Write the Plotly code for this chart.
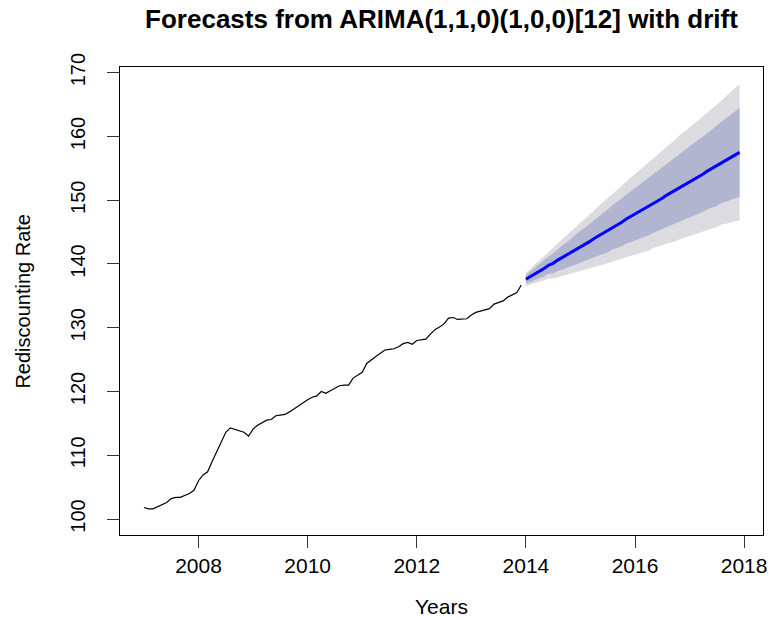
import plotly.graph_objects as go

# Monthly rediscounting rate, Jan 2007 - Dec 2013
hist_start = 2007.0
hist_values = [
    101.8, 101.6, 101.6, 101.9, 102.2, 102.6, 103.2, 103.4, 103.4, 103.7, 104.0, 104.5,
    106.0, 106.9, 107.4, 109.0, 110.6, 112.2, 113.6, 114.3, 114.1, 113.9, 113.6, 113.0,
    114.1, 114.7, 115.1, 115.5, 115.6, 116.2, 116.3, 116.4, 116.8, 117.3, 117.8, 118.3,
    118.7, 119.1, 119.3, 120.0, 119.7, 120.1, 120.5, 120.9, 121.0, 121.0, 122.1, 122.6,
    123.0, 124.4, 125.0, 125.5, 126.0, 126.5, 126.6, 126.7, 127.0, 127.5, 127.7, 127.4,
    128.0, 128.1, 128.2, 129.0, 129.7, 130.1, 130.6, 131.5, 131.6, 131.3, 131.3, 131.4,
    132.0, 132.4, 132.6, 132.8, 133.0, 133.7, 134.0, 134.2, 134.8, 135.1, 135.5, 136.7,
]

# Point forecasts, Jan 2014 - Dec 2017
fc_start = 2014.0
fc_mean = [
    137.6, 138.0, 138.5, 138.9, 139.3, 139.8, 140.1, 140.6, 141.0, 141.4, 141.9, 142.3,
    142.7, 143.1, 143.5, 144.0, 144.4, 144.8, 145.2, 145.7, 146.1, 146.5, 147.0, 147.4,
    147.8, 148.2, 148.6, 149.0, 149.5, 149.9, 150.3, 150.8, 151.2, 151.6, 152.1, 152.5,
    152.9, 153.3, 153.7, 154.1, 154.6, 155.0, 155.4, 155.9, 156.3, 156.7, 157.1, 157.5,
]

# Half-widths of the 80% and 95% prediction intervals
hw80 = [
    0.65, 0.85, 1.0, 1.1, 1.25, 1.35, 1.55, 1.7, 1.9, 2.0, 2.15, 2.35,
    2.5, 2.6, 2.75, 2.9, 3.05, 3.2, 3.35, 3.45, 3.6, 3.75, 3.85, 4.0,
    4.1, 4.25, 4.4, 4.5, 4.6, 4.7, 4.85, 4.95, 5.1, 5.25, 5.35, 5.45,
    5.55, 5.7, 5.8, 5.9, 6.0, 6.15, 6.3, 6.35, 6.55, 6.65, 6.8, 7.0,
]
hw95 = [
    1.0, 1.3, 1.5, 1.7, 1.9, 2.1, 2.4, 2.6, 2.9, 3.1, 3.3, 3.6,
    3.8, 4.0, 4.2, 4.4, 4.7, 4.9, 5.1, 5.3, 5.5, 5.7, 5.9, 6.1,
    6.3, 6.5, 6.7, 6.9, 7.0, 7.2, 7.4, 7.6, 7.8, 8.0, 8.2, 8.3,
    8.5, 8.7, 8.9, 9.0, 9.2, 9.4, 9.6, 9.7, 10.0, 10.2, 10.4, 10.7,
]

x_ticks = [2008, 2010, 2012, 2014, 2016, 2018]
y_ticks = [100, 110, 120, 130, 140, 150, 160, 170]

hist_x = [hist_start + i / 12 for i in range(len(hist_values))]
fc_x = [fc_start + i / 12 for i in range(len(fc_mean))]

lo95 = [m - h for m, h in zip(fc_mean, hw95)]
hi95 = [m + h for m, h in zip(fc_mean, hw95)]
lo80 = [m - h for m, h in zip(fc_mean, hw80)]
hi80 = [m + h for m, h in zip(fc_mean, hw80)]

fig = go.Figure()

# 95% band
fig.add_trace(go.Scatter(
    x=fc_x + fc_x[::-1], y=hi95 + lo95[::-1],
    fill="toself", fillcolor="#DBDBE0", line=dict(width=0),
    mode="lines", hoverinfo="skip", showlegend=False,
))
# 80% band
fig.add_trace(go.Scatter(
    x=fc_x + fc_x[::-1], y=hi80 + lo80[::-1],
    fill="toself", fillcolor="#B1B5D0", line=dict(width=0),
    mode="lines", hoverinfo="skip", showlegend=False,
))
# observed series
fig.add_trace(go.Scatter(
    x=hist_x, y=hist_values, mode="lines",
    line=dict(color="black", width=1.2), showlegend=False,
))
# point forecasts
fig.add_trace(go.Scatter(
    x=fc_x, y=fc_mean, mode="lines",
    line=dict(color="#0000FF", width=3), showlegend=False,
))

font_family = "Liberation Sans, Arial, sans-serif"

fig.update_layout(
    width=774, height=618,
    margin=dict(l=120, r=7, t=67, b=83),
    paper_bgcolor="white", plot_bgcolor="white",
    font=dict(family=font_family, color="black", size=20),
    title=dict(
        text="<b>Forecasts from ARIMA(1,1,0)(1,0,0)[12] with drift</b>",
        x=0.5, xref="paper", y=1 - 19 / 618, yref="container",
        xanchor="center", yanchor="middle",
        font=dict(family=font_family, size=26, color="black"),
    ),
    xaxis=dict(
        range=[2006.561, 2018.346], tickvals=x_ticks,
        ticktext=[str(v) for v in x_ticks],
        showgrid=False, zeroline=False,
        showline=True, linecolor="black", linewidth=1.2, mirror=True,
        ticks="outside", ticklen=12, tickwidth=1.2, tickcolor="#333",
        ticklabelstandoff=0,
        tickfont=dict(size=21),
    ),
    yaxis=dict(
        range=[97.49, 170.89], tickvals=y_ticks,
        ticktext=[str(v) for v in y_ticks], tickangle=-90,
        showgrid=False, zeroline=False,
        showline=True, linecolor="black", linewidth=1.2, mirror=True,
        ticks="outside", ticklen=12, tickwidth=1.2, tickcolor="#333",
        ticklabelstandoff=14,
        tickfont=dict(size=20),
    ),
    annotations=[
        dict(text="Years", xref="paper", yref="paper", x=0.5, y=-71 / 468,
             xanchor="center", yanchor="middle", showarrow=False,
             font=dict(size=21)),
        dict(text="Rediscounting Rate", xref="paper", yref="paper",
             x=-98 / 647, y=0.5, textangle=-90,
             xanchor="center", yanchor="middle", showarrow=False,
             font=dict(size=20)),
    ],
)

fig.write_html("out.html")
